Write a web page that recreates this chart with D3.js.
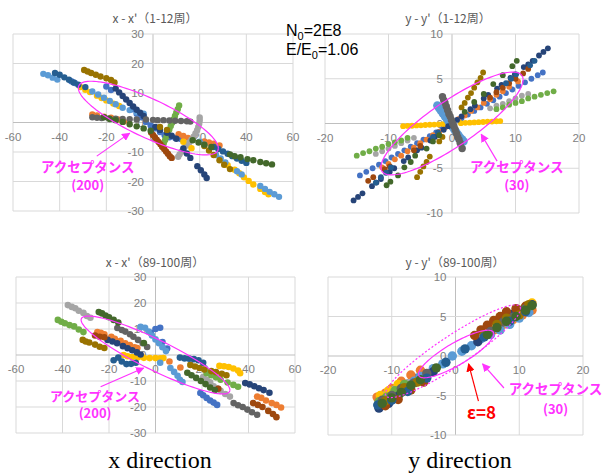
<!DOCTYPE html>
<html>
<head>
<meta charset="utf-8">
<script src="https://cdn.jsdelivr.net/npm/d3@7"></script>
<style>
  body { margin: 0; background: #fff; }
  svg { display: block; }
</style>
</head>
<body>
<svg id="chart" width="605" height="475"></svg>
<script>
// excel default palette, series 1..12
const seriesColors = ['#4472C4', '#ED7D31', '#A5A5A5', '#FFC000', '#5B9BD5', '#70AD47',
  '#264478', '#9E480E', '#636363', '#997300', '#255E91', '#43682B'];

const xTicks = [-60, -40, -20, 0, 20, 40, 60];
const xpTicks = [-30, -20, -10, 0, 10, 20, 30];
const yTicks = [-20, -10, 0, 10, 20];
const ypTicks = [-10, -5, 0, 5, 10];
const panelTitles = ["x - x'（1-12周）", "y - y'（1-12周）", "x - x'（89-100周）", "y - y'（89-100周）"];
const directionLabels = ['x direction', 'y direction'];
const acceptance = ['(200)', '(30)'];

// x - x' , turns 1-12 (one list per series, series order = palette order)
const xEarly = [
  [[-35, 14], [-33.5, 13.4], [-20, 12.2], [-18, 11], [-9, 4.5], [-7, 3], [-5, 1.8], [-3, 0.2], [-1, -1], [1, -2], [3, -3.2], [5, -4.3], [7, -5], [9.5, -5.2], [12, -5.6]],
  [[-26, 2.7], [-24, 2.4], [-21, 2], [-18, 1.6], [-15, 1], [-12.5, 0.3], [11, -4], [13, -4.6], [15, -5.2], [17, -5.6], [22, -6.4], [24, -6.8], [26, -7.2], [28.5, -7.8]],
  [[20, 1.7], [20, 0.7], [19.8, -0.4], [19.4, -1.5], [18.9, -2.6], [18.2, -3.7], [17.4, -4.8], [16.5, -5.8], [15.5, -6.8], [14.4, -7.8], [13.3, -8.8], [12.3, -9.8], [11.4, -10.8], [10.8, -11.6]],
  [[-31, 12], [-29, 11.1], [-27, 10.3], [-24, 9.1], [-22, 8.3], [-20, 7.5], [-17, 6.4], [-14.5, 5.6], [13, -6.5], [16.5, -8.7], [32, -14.5], [35, -16], [37, -17.2], [39, -18.6], [41, -19.8], [43, -21], [46, -22.5], [48, -23.6], [49.5, -24.3]],
  [[-47, 16.5], [-45, 16], [-43, 15.2], [-41, 14.6], [-26, 10.5], [-23.5, 9.5], [-21, 8.4], [-18.5, 7.3], [-16, 6.2], [-13, 5], [-10, 4.2], [-7, 3.5], [-4, 3], [20, -6.5], [22, -7.5], [27, -11], [29, -12.2], [31, -13.5], [36, -16.5], [38, -17.6], [46, -21.5], [48, -22.5], [50, -23.5], [52, -24.3], [54, -25.2]],
  [[4, -8.2], [4.6, -7], [5.2, -5.9], [5.8, -4.7], [6.4, -3.6], [7, -2.4], [7.6, -1.2], [8.2, -0.1], [8.8, 1], [9.4, 2.2], [10, 3.4], [10.6, 4.5], [11.2, 5.8]],
  [[-16, 11.5], [-14.5, 10.2], [-13, 9], [-11.5, 7.8], [-10, 6.6], [-8.5, 5.4], [-7, 4.3], [-5.5, 3.3], [-4, 2.2], [1, -1.5], [3, -2.5], [6, -3.5], [8, -4.5], [10, -5.5], [13, -8.8], [14.5, -10.5], [16, -12], [19, -14.8], [20.5, -16.2], [22, -17.6], [23, -18.8]],
  [[-0.8, -3.4], [0, -4.2], [0.8, -5], [1.6, -5.8], [2.4, -6.6], [3.2, -7.4], [4, -8.2], [4.8, -9], [5.6, -9.8], [6.4, -10.6], [7.2, -11.4], [8, -12]],
  [[-26, 1.8], [-24, 1.6], [-22, 1.5], [-19, 1.4], [-16, 1.3], [-13, 1.2], [-10, 1.1], [-7, 1], [-3, 1], [0, 0.9], [2, 0.8], [4.5, 0.8], [7, 0.7], [9.5, 0.6], [12, 0.5], [14.5, 0.4], [16, 0.3]],
  [[-29.5, 17.8], [-28, 17.3], [-26.5, 16.8], [-24.5, 16.2], [-22.5, 15.6], [-20, 15], [-18, 14.4], [-16.5, 13.6], [3, -1.5], [6, -2.5], [22, -8], [24, -9.5], [26, -11], [28.5, -12.8], [30.5, -14.3], [33, -15.8]],
  [[-42, 16.8], [-40, 16.2], [-38, 15.3], [-36, 14.5], [-34, 13.6], [-32, 12.8], [-29, 12], [26, -8.3], [28, -9], [30, -9.8], [32, -10.6], [34, -11.4], [36, -12.2], [38, -13], [40, -13.7]],
  [[-21, 1.8], [-18.5, 1.2], [-16, 0.8], [-13, 0.2], [-10, -0.6], [-7, -1.3], [-4, -2], [-1, -2.8], [17, -6], [19.5, -6.8], [22, -7.5], [25, -8.3], [33, -10.8], [35, -11.4], [37.5, -11.8], [40.5, -12.4], [43, -12.8], [46, -13.4], [48.5, -13.8], [51, -14.2]]
];

// y - y' , turns 1-12
const yEarly = [
  [[-14.5, -5.8], [-13.5, -5.4], [-12.5, -5], [-11.5, -4.6], [-10.5, -4.2], [-9.5, -3.8], [-8.5, -3.4], [-7.5, -3], [-6.5, -2.6], [-5.5, -2.2], [-4.5, -1.8], [-3.5, -1.4], [-2.5, -1], [-1.5, -0.6], [1.5, 0.6], [2.5, 1], [3.5, 1.4], [4.5, 1.8], [5.5, 2.2], [6.5, 2.6], [7.5, 3], [8.5, 3.4], [9.5, 3.8], [10.5, 4.2], [11.5, 4.6], [12.5, 5], [13.5, 5.4], [14.3, 5.7]],
  [[-11, -4.9], [-10, -4.5], [-9, -4], [-8, -3.6], [-7, -3.1], [-6, -2.7], [-5, -2.2], [-4, -1.8], [-3, -1.3], [-2, -0.9], [-1, -0.4], [1, 0.5], [2, 0.9], [3, 1.4], [4, 1.8], [5, 2.3], [6, 2.7], [7, 3.2], [8, 3.6], [9, 4.1], [10.4, 4.7]],
  [[-12, -3.4], [-11, -3.1], [-10, -2.8], [-9, -2.5], [-8, -2.2], [-7, -1.9], [-6, -1.6], [6, 1.7], [7, 2], [8, 2.2], [9, 2.5], [10, 2.8], [11, 3.1], [12, 3.3]],
  [[-7.7, -0.3], [-7, -0.27], [-6.3, -0.25], [-5.6, -0.22], [-4.9, -0.2], [-4.2, -0.17], [-3.5, -0.14], [-2.8, -0.12], [-2.1, -0.09], [-1.4, -0.06], [1.4, 0.04], [2.1, 0.07], [2.8, 0.09], [3.5, 0.12], [4.2, 0.15], [4.9, 0.17], [5.6, 0.2], [6.3, 0.22], [7, 0.25], [7.6, 0.27]],
  [[-2.3, 2], [-2, 1.7], [-1.7, 1.4], [-1.4, 1.1], [-1.1, 0.8], [-0.8, 0.5], [-0.5, 0.2], [-0.2, -0.1], [0.1, -0.4], [0.4, -0.7], [0.7, -1], [1, -1.3], [1.3, -1.6], [1.6, -1.8], [1.8, -2]],
  [[-15, -3.6], [-14, -3.3], [-13, -3.1], [-12, -2.8], [-11, -2.6], [-10, -2.3], [-9, -2.1], [-8, -1.9], [-7, -1.6], [7, 1.6], [8, 1.8], [9, 2.1], [10, 2.3], [11, 2.5], [12, 2.8], [13, 3], [14, 3.2], [15, 3.4], [16, 3.6]],
  [[-15.5, -8.6], [-14.8, -8.2], [-14.1, -7.8], [-12.6, -7], [-11.9, -6.6], [-11.2, -6.2], [-9.8, -5.4], [-9.1, -5], [-7.6, -4.2], [-6.9, -3.8], [-5.5, -3], [-4.8, -2.7], [-3.4, -1.9], [-2.7, -1.5], [-1.3, -0.7], [-0.6, -0.3], [0.8, 0.4], [1.5, 0.8], [2.9, 1.6], [3.6, 2], [5, 2.8], [5.7, 3.2], [7.1, 3.9], [7.8, 4.3], [9.2, 5.1], [9.9, 5.5], [11.3, 6.3], [12, 6.6], [12.7, 7], [13.7, 7.6], [14.4, 8], [15.1, 8.4]],
  [[-13.2, -6.4], [-12.4, -6], [-10.6, -5.1], [-9.8, -4.8], [-6, -3], [-5, -2.5], [6, 2.9], [7, 3.5], [8, 4], [9, 4.5], [10, 5], [11.2, 5.6], [12, 6.1]],
  [[-1.5, 3], [-1.3, 2.6], [-1.1, 2.3], [-0.9, 1.9], [-0.7, 1.5], [-0.5, 1.1], [-0.3, 0.8], [-0.1, 0.4], [0.1, 0], [0.3, -0.3], [0.5, -0.7], [0.7, -1.1], [0.9, -1.5], [1.1, -1.8], [1.3, -2.2], [1.6, -2.8]],
  [[-5.5, -6], [-5, -5.4], [-4.5, -4.8], [-4, -4.3], [-3.5, -3.7], [-2, -2], [-1.5, -1.5], [1.5, 1.8], [2, 2.3], [2.5, 2.9], [3, 3.4], [3.5, 4], [4, 4.6], [4.5, 5.1], [4.9, 5.7]],
  [[-12, -6.6], [-11.2, -6], [-10.4, -5.5], [-9.6, -4.9], [-3, -1.5], [-2.2, -1], [8.5, 4.5], [9.3, 5], [10.1, 5.5], [12.3, 6.5], [13, 7]],
  [[-10.3, -6.9], [-9.7, -6.5], [-8.5, -5.8], [-7.5, -4.9], [-6.5, -4.3], [-5.8, -3.6], [-4, -2.8], [-3, -2], [-2, -1.3], [2, 1.3], [3.5, 2.4], [5, 3.3], [6.5, 4.4], [8, 5.4], [9.5, 6.4], [10.2, 7]]
];

// x - x' , turns 89-100
const xLate = [
  [[-2, 8.5], [0, 10], [2, 10.5], [3, 5], [5, 2.5], [19.3, -14.6], [20.5, -15.5], [22, -16.5], [23.5, -17.5], [25, -18.3], [26.5, -19.2]],
  [[-25, 8.8], [-23.5, 8.5], [-22, 8], [-19, 7], [-17.5, 6.2], [-15, 5.5], [-13, 4.5], [-11, 3.8], [-9, 3], [-7.8, 2.7], [6, -2.5], [10.7, -4.8], [43.7, -16], [45.5, -16.5], [47.5, -17.5], [50, -18.5], [52, -19.2], [54, -20.2]],
  [[-37.7, 19.2], [-36, 18.5], [-34.5, 18], [-33, 17], [-31, 16.2], [-29.5, 15], [-28, 14.3], [20.5, -8.5], [22, -9.5], [23.5, -10.5], [25, -12], [26.5, -12.8], [28, -13.8], [30, -15], [32, -16]],
  [[-13.7, 0], [-12, -0.5], [-10, -0.8], [-7.5, -0.9], [-5, -1.1], [-2.5, -1.2], [0, -1.2], [2, -1.3], [3.4, -1.2], [27.5, -4.2], [29.5, -4.3], [31.5, -4.6], [33.5, -5.2], [35.5, -6], [36.4, -7]],
  [[-6.4, 10.8], [-4.5, 10.5], [-3, 9], [-1.5, 7.5], [0, 6], [1.5, 4.5], [3, 3], [4.5, 1.5], [2, -3], [6.4, -5], [8, -6.5], [9.5, -8], [10.5, -9.5], [11.6, -10.4]],
  [[-42, 13.5], [-40.5, 12.8], [-39, 12.2], [-37, 11.5], [-35, 11], [-33, 9.8], [-31, 8.8], [22, -7], [24, -7.8], [26, -8.6], [28, -9.5], [31, -10.6], [33.5, -11.5], [35.5, -12.2]],
  [[-20.6, 5.8], [-18.5, 5.2], [-16.5, 4.5], [-14, 3.4], [-12, 2.6], [-10, 1.8], [-8, 1], [-6.4, 0.2], [38.6, -10.8], [40.5, -11.3], [42.5, -12], [44.5, -12.8], [46.5, -13.5], [49, -14.5]],
  [[-26, 7.5], [-24, 7], [-22, 6.8], [27, -13], [42, -18.5], [44, -19.2], [46, -20], [48.5, -21.5], [50.5, -22.7], [52, -23.9]],
  [[-16.4, 10.4], [-14.5, 9.6], [-13, 9], [-11, 8], [-9.5, 7], [-7.5, 5.8], [-5.5, 4.5], [-3.6, 3.1], [33.6, -18.5], [35.5, -19.3], [37.5, -20], [39.5, -21], [41.5, -22], [43.7, -23]],
  [[-31.3, 5.8], [-30, 5.2], [-28.5, 4.8], [-26, 4], [-24, 3.2], [-22, 2.7], [15, -3.8], [17, -4.4], [19, -5], [21, -5.6], [24, -6.2], [26, -6.6], [28.5, -7.2], [30.5, -7.8]],
  [[-18, -2], [-16, -1], [-14.5, -2.5], [-12.5, -3.5], [-10.5, -3.4], [-8.5, -3], [10.5, -1], [12.5, -1.3], [14.5, -1.4], [16.5, -1.6], [18.5, -2], [20.5, -3]],
  [[-24.4, 16.5], [-23, 16], [-21.5, 15.2], [-20, 14.5], [-18, 13.5], [-16, 12.5], [-5, 4.6], [13.7, -6.8], [15.5, -7.8], [17.5, -8.8], [19.5, -10], [21.5, -11.2], [23.5, -12.5], [25.5, -13.5]]
];

// y - y' , turns 89-100
const yLate = [
  [[-11.5, -5.4], [-10, -4.6], [-8, -3.8], [-6, -2.8], [7, 3.8], [8.5, 4.6], [10, 5.3], [11.5, 5.9]],
  [[-12.3, -5.2], [-11, -4.7], [-10, -4.1], [-8.5, -3.2], [-7, -2.4], [-5.5, -1.8], [6, 3.3], [7.5, 4], [9, 4.6], [10.5, 5.2], [12, 5.8]],
  [[-11, -5], [-9.5, -4.3], [-7.5, -3.5], [6.5, 3.5], [8, 4.2]],
  [[-11.8, -5], [-10.5, -4.4], [-9, -3.6], [10, 5.8], [11, 6.2], [12, 6.7]],
  [[-12, -6.2], [-11, -5.5], [-9.5, -4.8], [-8, -4.2], [-6.5, -3.2], [-5.5, -2.6], [-3.5, -1.6], [-2, -1], [-0.5, 0], [1, 0.6], [2.5, 1.3], [4, 2.2], [5.5, 2.7], [7, 3.3], [8.5, 4], [10, 4.8], [11.5, 5.5]],
  [[-12, -5.8], [-10.8, -5.2], [-9.5, -4.4], [-8, -3.6], [8.5, 4.8], [10, 5.5], [11.5, 6.3]],
  [[-12, -6.6], [-10.5, -6], [-9, -5.1], [-3.5, -2], [3.5, 1.8], [9, 5.3], [10.5, 5.8], [12, 6.5]],
  [[-11, -6.3], [-9, -5.5], [-7, -4.3], [-5, -3.3], [3, 2.6], [4, 3.3], [5, 3.9], [6, 4.5], [7, 5], [8, 5.6], [9.5, 6], [11, 6.3]],
  [[-11.5, -5.6], [-10, -5], [-8.5, -4.1], [-6.5, -3.4], [-4.5, -2.2], [5.5, 3.1], [7.5, 4.3], [9, 4.9], [11, 6]],
  [[-11, -5.7], [-8, -4], [-6, -3.3], [4.5, 2.7], [6.5, 4], [8, 4.8], [10, 5.2], [11.5, 6.5]],
  [[-12.2, -6.2], [-10, -5.6], [-7.5, -4.5], [-4.5, -2.8], [-1.5, -0.8], [1.5, 0.9], [4.5, 2.4], [8.5, 4.4], [11, 5.6]],
  [[-11.5, -6], [-10, -5.3], [-8.5, -4.6], [-7, -3.7], [-5.5, -3], [-3, -1.5], [5, 2.7], [6.5, 3.6], [8, 4.4], [9.5, 5], [11, 5.8], [12, 6.4]]
];

// acceptance ellipses: centre, conjugate half-diameters (data units)
const ellipseX1 = { c: [-2, 1.5], a: [30, -10.2], b: [0, 7.2] };
const ellipseY1 = { c: [0, 0], a: [11.2, 4.9], b: [0, 3] };
const ellipseX2 = { c: [0, 0], a: [32, -13.5], b: [0, 6.5] };
const ellipseY2 = { c: [-0.4, 0.6], a: [10.6, 5.4], b: [0, 2.3] };
const ellipseEps = { c: [0.1, 0.25], a: [5.9, 2.55], b: [0, 1.6] };

const MAGENTA = '#ff33ff';
const svg = d3.select('#chart');
const defs = svg.append('defs');
[['arrowM', MAGENTA], ['arrowR', '#ff0000']].forEach(([id, col]) => {
  defs.append('marker')
    .attr('id', id)
    .attr('viewBox', '0 0 10 10')
    .attr('refX', 9).attr('refY', 5)
    .attr('markerWidth', 7).attr('markerHeight', 7)
    .attr('orient', 'auto')
    .append('path')
    .attr('d', 'M0,0 L10,5 L0,10 z')
    .attr('fill', col);
});

const panels = [
  { title: panelTitles[0], tx: 155, ty: 18, data: xEarly, px: [13, 293], py: [211, 34], xd: [-60, 60], yd: [-30, 30], xt: xTicks, yt: xpTicks, r: 3.2,
    ell: [{ e: ellipseX1, dash: null }],
    arrows: [{ from: [-24.1, -11.4], to: [-10, -3.6], m: 'arrowM', col: MAGENTA }],
    labels: [{ at: [-28, -15], text: 'アクセプタンス', col: MAGENTA, size: 13.5 }, { at: [-28, -21.2], text: acceptance[0], col: MAGENTA, size: 13 }] },
  { title: panelTitles[1], tx: 448, ty: 18, data: yEarly, px: [325, 579], py: [213, 34], xd: [-20, 20], yd: [-10, 10], xt: [-20, -10, 0, 10, 20], yt: ypTicks, r: 2.9,
    rBig: { 4: 4.3, 8: 3.7 },
    ell: [{ e: ellipseY1, dash: null }],
    arrows: [{ from: [7.1, -4.2], to: [4.6, -1.2], m: 'arrowM', col: MAGENTA }],
    labels: [{ at: [10.2, -4.9], text: 'アクセプタンス', col: MAGENTA, size: 13.5 }, { at: [10.2, -6.9], text: acceptance[1], col: MAGENTA, size: 13 }] },
  { title: panelTitles[2], tx: 155, ty: 262, data: xLate, px: [16, 295], py: [433, 277], xd: [-60, 60], yd: [-30, 30], xt: xTicks, yt: xpTicks, r: 3.3,
    ell: [{ e: ellipseX2, dash: null }],
    arrows: [{ from: [-23.6, -12.2], to: [-5.1, -5], m: 'arrowM', col: MAGENTA }],
    labels: [{ at: [-26, -15.9], text: 'アクセプタンス', col: MAGENTA, size: 13 }, { at: [-26, -22.6], text: acceptance[0], col: MAGENTA, size: 13 }] },
  { title: panelTitles[3], tx: 455, ty: 262, data: yLate, px: [328, 583], py: [435, 277], xd: [-20, 20], yd: [-10, 10], xt: [-20, -10, 0, 10, 20], yt: ypTicks, r: 4.7,
    ell: [{ e: ellipseY2, dash: '2,2' }, { e: ellipseEps, dash: null }],
    arrows: [{ from: [7.6, -4.05], to: [4.25, -1.0], m: 'arrowM', col: MAGENTA }, { from: [3.6, -5.7], to: [2.05, -1.0], m: 'arrowR', col: '#ff0000' }],
    labels: [{ at: [15.7, -4.2], text: 'アクセプタンス', col: MAGENTA, size: 13.5 }, { at: [15.7, -6.7], text: acceptance[1], col: MAGENTA, size: 13 },
      { at: [4.1, -7.2], text: 'ε=8', col: '#ff0000', size: 17 }] }
];

const angles = d3.range(0, 362, 3).map(d => d * Math.PI / 180);

panels.forEach(p => {
  const x = d3.scaleLinear().domain(p.xd).range(p.px);
  const y = d3.scaleLinear().domain(p.yd).range(p.py);
  const g = svg.append('g');

  // grid
  g.selectAll('.vg').data(p.xt).join('line')
    .attr('x1', d => x(d)).attr('x2', d => x(d))
    .attr('y1', y(p.yd[0])).attr('y2', y(p.yd[1]))
    .attr('stroke', d => d === 0 ? '#bfbfbf' : '#d9d9d9').attr('stroke-width', 1);
  g.selectAll('.hg').data(p.yt).join('line')
    .attr('y1', d => y(d)).attr('y2', d => y(d))
    .attr('x1', x(p.xd[0])).attr('x2', x(p.xd[1]))
    .attr('stroke', d => d === 0 ? '#bfbfbf' : '#d9d9d9').attr('stroke-width', 1);

  // tick labels sit on the zero axes
  g.selectAll('.xl').data(p.xt).join('text')
    .attr('x', d => x(d)).attr('y', y(0) + 18)
    .attr('text-anchor', 'middle')
    .attr('font-family', 'Liberation Sans, Arial, sans-serif').attr('font-size', 11.5)
    .attr('fill', '#808080').text(d => d);
  g.selectAll('.yl').data(p.yt).join('text')
    .attr('x', x(0) - 9).attr('y', d => y(d) + 4)
    .attr('text-anchor', 'end')
    .attr('font-family', 'Liberation Sans, Arial, sans-serif').attr('font-size', 11.5)
    .attr('fill', '#808080').text(d => d);

  g.append('text')
    .attr('x', p.tx).attr('y', p.ty + 5)
    .attr('text-anchor', 'middle')
    .attr('font-family', 'Noto Sans CJK JP, sans-serif').attr('font-size', 12)
    .attr('fill', '#595959').text(p.title);

  // series
  p.data.forEach((pts, i) => {
    const rr = p.rBig && p.rBig[i] ? p.rBig[i] : p.r;
    g.append('g').selectAll('circle').data(pts).join('circle')
      .attr('cx', d => x(d[0])).attr('cy', d => y(d[1]))
      .attr('r', rr).attr('fill', seriesColors[i]);
  });

  // ellipses
  p.ell.forEach(({ e, dash }) => {
    const line = d3.line()
      .x(t => x(e.c[0] + Math.cos(t) * e.a[0] + Math.sin(t) * e.b[0]))
      .y(t => y(e.c[1] + Math.cos(t) * e.a[1] + Math.sin(t) * e.b[1]));
    g.append('path').attr('d', line(angles))
      .attr('fill', 'none').attr('stroke', MAGENTA)
      .attr('stroke-width', 1.2)
      .attr('stroke-dasharray', dash);
  });

  p.arrows.forEach(a => {
    g.append('line')
      .attr('x1', x(a.from[0])).attr('y1', y(a.from[1]))
      .attr('x2', x(a.to[0])).attr('y2', y(a.to[1]))
      .attr('stroke', a.col).attr('stroke-width', 1.2)
      .attr('marker-end', `url(#${a.m})`);
  });

  p.labels.forEach(l => {
    g.append('text')
      .attr('x', x(l.at[0])).attr('y', y(l.at[1]))
      .attr('dy', '0.36em')
      .attr('text-anchor', 'middle')
      .attr('font-family', 'Noto Sans CJK JP, sans-serif')
      .attr('font-weight', 'bold').attr('font-size', l.size)
      .attr('fill', l.col).text(l.text);
  });
});

// beam condition note
const note = svg.append('g')
  .attr('font-family', 'Liberation Sans, Arial, sans-serif')
  .attr('font-size', 16).attr('fill', '#000');
const n1 = note.append('text').attr('x', 286).attr('y', 36);
n1.append('tspan').text('N');
n1.append('tspan').attr('font-size', 11).attr('dy', 4).text('0');
n1.append('tspan').attr('dy', -4).text('=2E8');
const n2 = note.append('text').attr('x', 286).attr('y', 55);
n2.append('tspan').text('E/E');
n2.append('tspan').attr('font-size', 11).attr('dy', 4).text('0');
n2.append('tspan').attr('dy', -4).text('=1.06');

svg.selectAll('.dir').data(directionLabels).join('text')
  .attr('x', (d, i) => i === 0 ? 160 : 460).attr('y', 468)
  .attr('text-anchor', 'middle')
  .attr('font-family', 'Liberation Serif, Times New Roman, serif')
  .attr('font-size', 24).attr('fill', '#000')
  .text(d => d);
</script>
</body>
</html>
